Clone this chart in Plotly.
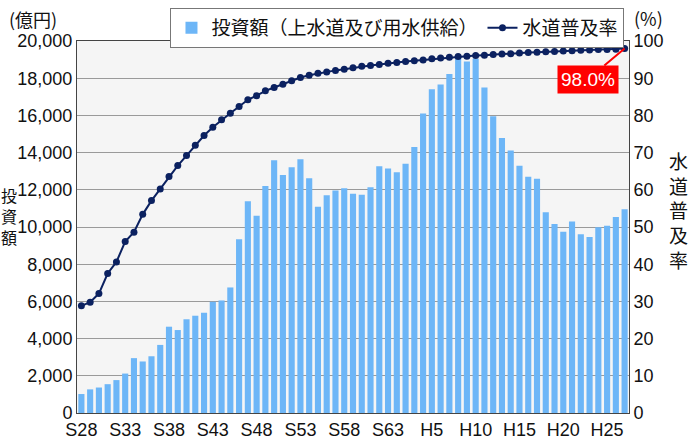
import plotly.graph_objects as go

categories = [f"S{y}" for y in range(28, 64)] + [f"H{y}" for y in range(1, 28)]

investment = [
    1020, 1270, 1370, 1550, 1770, 2120, 2950, 2770, 3050, 3660,
    4640, 4460, 5040, 5230, 5390, 5980, 6050, 6750, 9340, 11380,
    10610, 12200, 13590, 12800, 13210, 13640, 12620, 11090, 11710, 11960,
    12090, 11790, 11740, 12140, 13270, 13150, 12950, 13400, 14300, 16100,
    17400, 17660, 18230, 19100, 18900, 19050, 17500, 15960, 14790, 14110,
    13290, 12700, 12590, 10790, 10160, 9750, 10300, 9610, 9460, 9980,
    10070, 10540, 10960,
]

penetration = [
    28.8, 29.8, 32.1, 37.5, 40.6, 46.1, 48.6, 53.4, 57.1, 60.2,
    63.6, 66.5, 69.2, 72.0, 74.6, 76.8, 78.8, 80.6, 82.4, 84.2,
    85.3, 86.6, 87.5, 88.4, 89.3, 90.2, 90.8, 91.3, 91.7, 92.1,
    92.4, 92.8, 93.2, 93.4, 93.7, 94.0, 94.2, 94.5, 94.7, 94.9,
    95.2, 95.4, 95.6, 95.8, 95.9, 96.1, 96.2, 96.4, 96.5, 96.6,
    96.8, 96.9, 97.0, 97.1, 97.2, 97.3, 97.4, 97.5, 97.6, 97.7,
    97.7, 97.8, 98.0,
]

tick_labels = ["S28", "S33", "S38", "S43", "S48", "S53", "S58", "S63",
               "H5", "H10", "H15", "H20", "H25"]

FONT = "Liberation Sans, Arial, Noto Sans CJK JP, sans-serif"
JP = "Noto Sans CJK JP, sans-serif"

fig = go.Figure()
fig.add_trace(go.Bar(
    x=categories, y=investment, name="投資額（上水道及び用水供給）",
    marker=dict(color="#6db6f7", line=dict(width=0)), yaxis="y",
))
fig.add_trace(go.Scatter(
    x=categories, y=penetration, name="水道普及率", mode="lines+markers",
    line=dict(color="#0b2160", width=2), marker=dict(color="#0b2160", size=7),
    yaxis="y2",
))

fig.update_layout(
    width=693, height=439,
    margin=dict(l=77, r=64, t=41, b=26, autoexpand=False),
    paper_bgcolor="white", plot_bgcolor="#f5f5f5",
    font=dict(family=FONT, size=18, color="#111"),
    bargap=0.3,
    showlegend=True,
    legend=dict(
        orientation="h", xref="container", yref="container",
        x=0.246, y=0.982, xanchor="left", yanchor="top",
        bgcolor="white", bordercolor="#777", borderwidth=1,
        font=dict(family=JP, size=19, color="#111"),
        tracegroupgap=0,
    ),
    xaxis=dict(
        type="category", tickmode="array", tickvals=tick_labels, ticktext=tick_labels,
        showgrid=False, showline=True, linecolor="#444", linewidth=1, mirror=True,
        ticks="", tickfont=dict(size=18), range=[-0.5, len(categories) - 0.5],
        automargin=False,
    ),
    yaxis=dict(
        range=[0, 20000], dtick=2000, tickformat=",d", showgrid=True,
        gridcolor="#9a9a9a", gridwidth=1, showline=True, linecolor="#444",
        linewidth=1, ticks="", tickfont=dict(size=18), zeroline=False,
        automargin=False,
    ),
    yaxis2=dict(
        range=[0, 100], dtick=10, overlaying="y", side="right", showgrid=False,
        showline=True, linecolor="#444", linewidth=1, ticks="",
        tickfont=dict(size=18), zeroline=False, automargin=False,
    ),
)

fig.add_annotation(xref="paper", yref="paper", x=-0.126, y=1.06,
                   text="(億円)", showarrow=False, font=dict(family=JP, size=18),
                   xanchor="left", yanchor="middle")
fig.add_annotation(xref="paper", yref="paper", x=1.005, y=1.062,
                   text="(%)", showarrow=False, font=dict(family=JP, size=18),
                   xanchor="left", yanchor="middle")
fig.add_annotation(xref="paper", yref="paper", x=-0.124, y=0.53,
                   text="投<br>資<br>額", showarrow=False,
                   font=dict(family=JP, size=16), xanchor="center", yanchor="middle")
fig.add_annotation(xref="paper", yref="paper", x=1.09, y=0.545,
                   text="水<br>道<br>普<br>及<br>率", showarrow=False,
                   font=dict(family=JP, size=19), xanchor="center", yanchor="middle")

fig.add_annotation(
    x=categories[-1], y=penetration[-1], xref="x", yref="y2",
    text=f"{penetration[-1]:.1f}%", showarrow=True, arrowhead=0, arrowwidth=2,
    arrowcolor="#ff0000", ax=-37, ay=31, bgcolor="#ff0000",
    font=dict(family=FONT, size=19, color="white"), borderpad=3,
)

fig.write_html("out.html", config={"displayModeBar": False},
               post_script="document.body.style.margin='0';")
